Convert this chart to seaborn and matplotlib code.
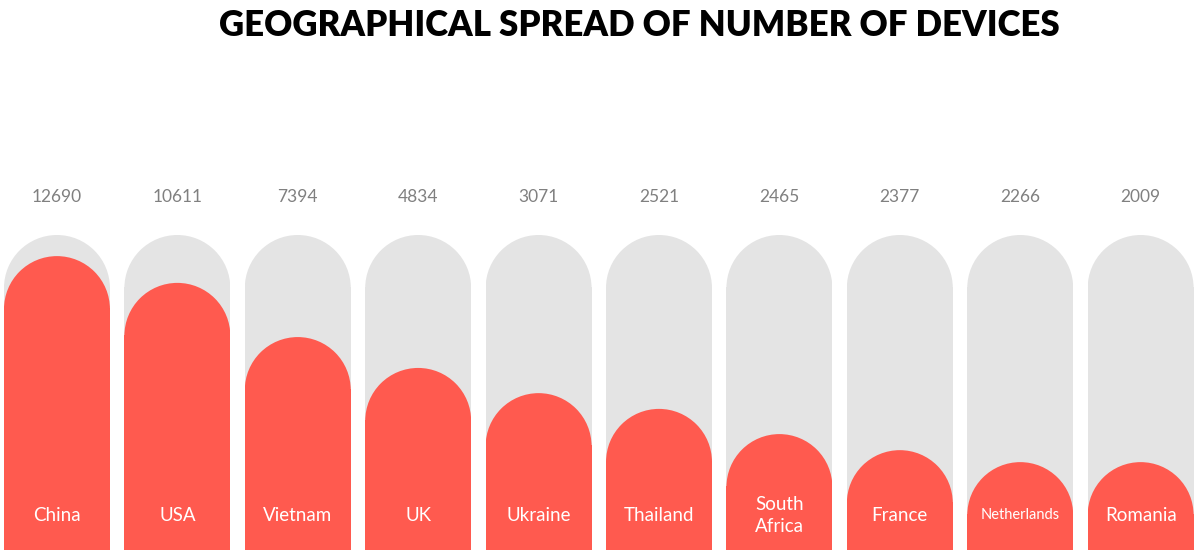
import matplotlib
matplotlib.use("Agg")
import matplotlib.pyplot as plt
from matplotlib.patches import Ellipse, Rectangle
import seaborn as sns
import pandas as pd

# data
countries = ["China", "USA", "Vietnam", "UK", "Ukraine", "Thailand",
             "South\nAfrica", "France", "Netherlands", "Romania"]
devices = [12690, 10611, 7394, 4834, 3071, 2521, 2465, 2377, 2266, 2009]
# how far the red fill reaches up the grey pill, in %
fill_pct = [93.3, 84.8, 67.6, 57.8, 49.8, 44.8, 36.8, 31.7, 27.9, 27.9]
track_pct = [100] * len(countries)

df = pd.DataFrame({"country": countries, "devices": devices,
                   "fill": fill_pct, "track": track_pct})

RED = "#FF5A4F"
GREY = "#E4E4E4"

sns.set_theme(style="white")
plt.rcParams["font.family"] = ["Lato", "DejaVu Sans"]

fig = plt.figure(figsize=(12, 5.56), dpi=100)
ax = fig.add_axes([0, 0, 1, 1])

sns.barplot(data=df, x="country", y="track", color=GREY, width=0.88,
            saturation=1, ax=ax, zorder=1, edgecolor="none", linewidth=0)
sns.barplot(data=df, x="country", y="fill", color=RED, width=0.88,
            saturation=1, ax=ax, zorder=2, edgecolor="none", linewidth=0)

ax.set_xlim(-0.473, 9.493)
ax.set_ylim(-1.9, 174.6)
ax.axis("off")

# turn the flat tops into round ones (half ellipse that looks like a half circle)
fig.canvas.draw()
(x0p, y0p), (x1p, y1p) = ax.transData.transform([(0, 0), (1, 1)])
px_per_x = x1p - x0p
px_per_y = y1p - y0p
for p in list(ax.patches):
    w = p.get_width()
    h = p.get_height()
    ry = (w / 2) * px_per_x / px_per_y
    cx = p.get_x() + w / 2
    z = p.get_zorder()
    p.set_height(h - ry + 0.4)
    cap = Ellipse((cx, h - ry), w, 2 * ry, facecolor=p.get_facecolor(),
                  edgecolor="none", linewidth=0, zorder=z)
    ax.add_patch(cap)
    clip = Rectangle((p.get_x(), h - ry), w, ry * 1.1, transform=ax.transData)
    cap.set_clip_path(clip)

# value labels above the pills
for i, v in enumerate(devices):
    ax.text(i, 112.2, str(v), ha="center", va="center", fontsize=12.5,
            color="#808080")

# country names inside the bars
for i, c in enumerate(countries):
    size = 10.5 if c == "Netherlands" else 13.5
    ax.text(i, 11.0, c, ha="center", va="center", fontsize=size,
            color="white", linespacing=1.35, zorder=5)

fig.text(0.533, 0.955, "GEOGRAPHICAL SPREAD OF NUMBER OF DEVICES",
         ha="center", va="center", fontsize=25, fontweight="heavy",
         color="black")

fig.savefig("out.png", dpi=100)
